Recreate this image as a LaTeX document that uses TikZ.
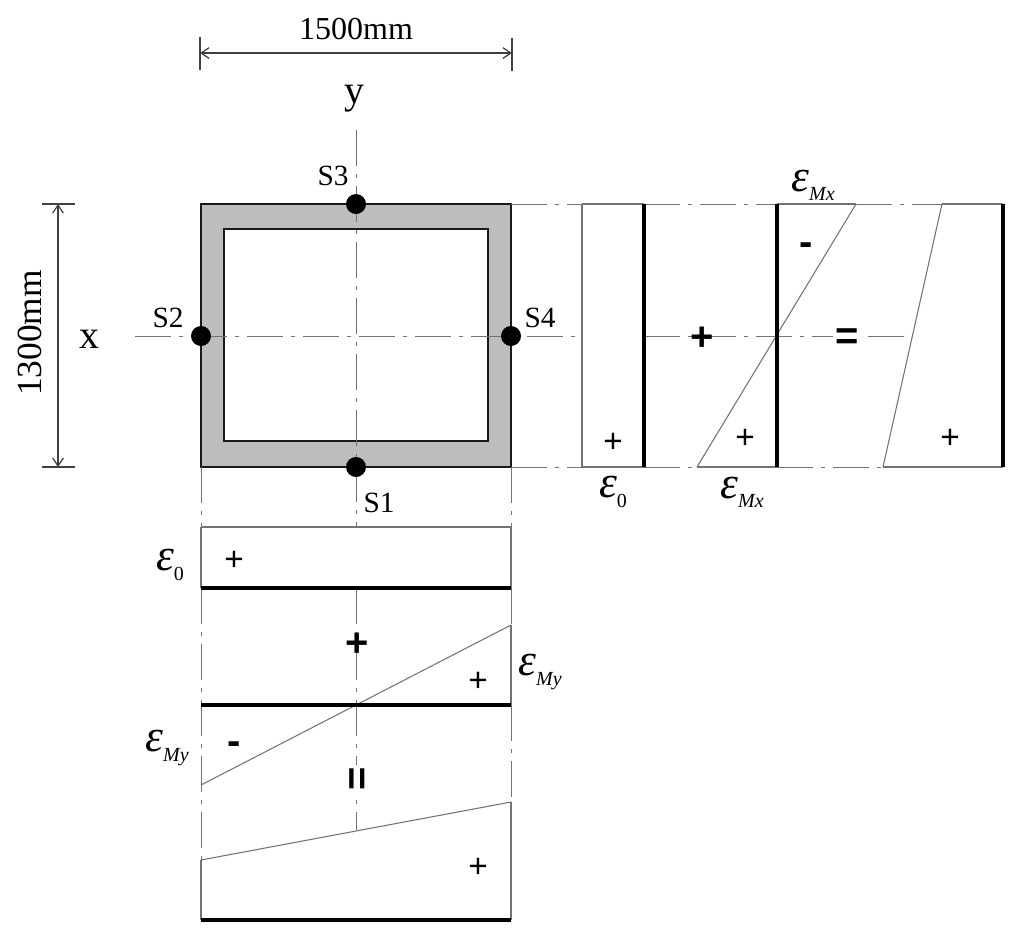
\documentclass[tikz,border=0pt]{standalone}
\usepackage{fontspec}
\setmainfont{Liberation Serif}
\newfontfamily\signfont{Liberation Sans}
\usetikzlibrary{arrows.meta}

\newcommand{\strain}[1]{{\fontsize{34}{36}\selectfont\itshape ε}\raisebox{-7pt}{\fontsize{15}{17}\selectfont #1}}

\tikzset{
	every picture/.style={line width=0.75pt},
	txt/.style={inner sep=0pt,font=\fontsize{22}{24}\selectfont},
	dimlabel/.style={inner sep=0pt,font=\fontsize{24}{26}\selectfont},
	axislabel/.style={inner sep=0pt,font=\fontsize{30}{32}\selectfont},
	sign/.style={inner sep=0pt,font=\signfont\fontsize{25}{26}\selectfont},
	bigsign/.style={inner sep=0pt,font=\signfont\fontsize{30}{31}\selectfont\bfseries},
	dot/.style={circle,fill=black,inner sep=0pt,minimum size=15pt},
	axisline/.style={color=black!55,line width=0.7pt,dash pattern={on 27pt off 6pt on 3pt off 6pt}},
	thin line/.style={color=black!55,line width=0.8pt},
	thick line/.style={color=black,line width=3pt},
	dimline/.style={color=black!75,line width=0.9pt},
	section line/.style={color=black!90,line width=1.3pt},
}

\begin{document}
\begin{tikzpicture}[x=0.75pt,y=0.75pt,yscale=-1,xscale=1]
	\useasboundingbox (0,0) rectangle (1024,940);
	%cross section
	\draw [section line,fill={black!26}] (201,204) rectangle (511,467);
	\draw [section line,fill=white] (224,229) rectangle (488,441);
	%centre axes
	\coordinate (axisT) at (356,130);
	\coordinate (axisB) at (356,527);
	\coordinate (axisL) at (135,336);
	\coordinate (axisR) at (582,336);
	\draw [axisline] (axisT) -- (axisB);
	\draw [axisline] (axisL) -- (axisR);
	\coordinate (axisB2) at (356,588);
	\coordinate (axisB3) at (356,830);
	\draw [axisline] (axisB2) -- (axisB3);
	\coordinate (axisR2) at (644,336);
	\coordinate (axisR3) at (913,336);
	\draw [axisline] (axisR2) -- (axisR3);
	%dimensions
	\coordinate (dimA1) at (200,37);
	\coordinate (dimA2) at (200,70);
	\coordinate (dimB1) at (512,38);
	\coordinate (dimB2) at (512,71);
	\coordinate (dimA) at (200,53);
	\coordinate (dimB) at (512,53);
	\draw [dimline] (dimA1) -- (dimA2);
	\draw [dimline] (dimB1) -- (dimB2);
	\draw [dimline,{Straight Barb[length=6pt,width=8pt]}-{Straight Barb[length=6pt,width=8pt]}] (dimA) -- (dimB);
	\coordinate (dimC1) at (42,204);
	\coordinate (dimC2) at (75,204);
	\coordinate (dimD1) at (42,467);
	\coordinate (dimD2) at (75,467);
	\coordinate (dimC) at (58,204);
	\coordinate (dimD) at (58,467);
	\draw [dimline] (dimC1) -- (dimC2);
	\draw [dimline] (dimD1) -- (dimD2);
	\draw [dimline,{Straight Barb[length=6pt,width=8pt]}-{Straight Barb[length=6pt,width=8pt]}] (dimC) -- (dimD);
	%right strain diagrams
	\coordinate (T0) at (511,204);
	\coordinate (T1) at (582,204);
	\coordinate (T2) at (644,204);
	\coordinate (T3) at (777,204);
	\coordinate (T4) at (856,204);
	\coordinate (T5) at (942,204);
	\coordinate (T6) at (1003,204);
	\coordinate (B0) at (511,467);
	\coordinate (B1) at (582,467);
	\coordinate (B2) at (644,467);
	\coordinate (B3) at (697,467);
	\coordinate (B4) at (777,467);
	\coordinate (B5) at (883,467);
	\coordinate (B6) at (1003,467);
	\draw [axisline] (T0) -- (T1);
	\draw [axisline] (T2) -- (T3);
	\draw [axisline] (T4) -- (T5);
	\draw [axisline] (B0) -- (B1);
	\draw [axisline] (B2) -- (B3);
	\draw [axisline] (B4) -- (B5);
	\draw [thin line] (T1) -- (T2);
	\draw [thin line] (T3) -- (T4);
	\draw [thin line] (T5) -- (T6);
	\draw [thin line] (B1) -- (B2);
	\draw [thin line] (B3) -- (B4);
	\draw [thin line] (B5) -- (B6);
	\draw [thin line] (T1) -- (B1);
	\draw [thin line] (T4) -- (B3);
	\draw [thin line] (T5) -- (B5);
	\draw [thick line] (T2) -- (B2);
	\draw [thick line] (T3) -- (B4);
	\draw [thick line] (T6) -- (B6);
	%lower strain diagrams
	\coordinate (L0) at (201,467);
	\coordinate (L1) at (201,527);
	\coordinate (L2) at (201,588);
	\coordinate (L3) at (201,705);
	\coordinate (L4) at (201,785);
	\coordinate (L5) at (201,860);
	\coordinate (L6) at (201,920);
	\coordinate (R0) at (511,467);
	\coordinate (R1) at (511,527);
	\coordinate (R2) at (511,588);
	\coordinate (R3) at (511,705);
	\coordinate (R4) at (511,625);
	\coordinate (R5) at (511,802);
	\coordinate (R6) at (511,920);
	\draw [axisline] (L0) -- (L1);
	\draw [axisline] (L2) -- (L5);
	\draw [axisline] (R0) -- (R1);
	\draw [axisline] (R2) -- (R4);
	\draw [axisline] (R3) -- (R5);
	\draw [thin line] (L1) -- (L2);
	\draw [thin line] (L5) -- (L6);
	\draw [thin line] (R1) -- (R2);
	\draw [thin line] (R4) -- (R3);
	\draw [thin line] (R5) -- (R6);
	\draw [thin line] (L1) -- (R1);
	\draw [thin line] (L4) -- (R4);
	\draw [thin line] (L5) -- (R5);
	\draw [thick line] (L2) -- (R2);
	\draw [thick line] (L3) -- (R3);
	\draw [thick line] (L6) -- (R6);
	%points
	\node [dot] (S1) at (356,467) {};
	\node [dot] (S2) at (201,336) {};
	\node [dot] (S3) at (356,204) {};
	\node [dot] (S4) at (511,336) {};
	%labels
	\node [dimlabel] (lblWidth) at (356,29) {1500mm};
	\node [dimlabel,rotate=90,font=\fontsize{26.5}{28}\selectfont] (lblHeight) at (30,333) {1300mm};
	\node [axislabel] (lblY) at (354,99) {y};
	\node [axislabel] (lblX) at (89,339) {x};
	\node [txt] (lblS1) at (379,503) {S1};
	\node [txt] (lblS2) at (168,318) {S2};
	\node [txt] (lblS3) at (333,176) {S3};
	\node [txt] (lblS4) at (540,318) {S4};
	\node [inner sep=0pt] (strainA) at (613,492) {\strain{0}};
	\node [inner sep=0pt] (strainB) at (170,565) {\strain{0}};
	\node [inner sep=0pt] (strainC) at (813,185) {\strain{\itshape Mx}};
	\node [inner sep=0pt] (strainD) at (742,492) {\strain{\itshape Mx}};
	\node [inner sep=0pt] (strainE) at (540,672) {\strain{\itshape My}};
	\node [inner sep=0pt] (strainF) at (167,748) {\strain{\itshape My}};
	\node [sign] (plusA) at (613,443) {+};
	\node [sign] (plusB) at (745,439) {+};
	\node [sign] (plusC) at (950,439) {+};
	\node [sign] (plusD) at (234,561) {+};
	\node [sign] (plusE) at (478,682) {+};
	\node [sign] (plusF) at (478,868) {+};
	\node [bigsign] (plusG) at (702,339) {+};
	\node [bigsign] (plusH) at (357,645) {+};
	\node [bigsign,fill=white,inner sep=2pt] (equalA) at (847,339) {=};
	\node [bigsign,fill=white,inner sep=2pt,rotate=90] (equalB) at (360,779) {=};
	\node [bigsign] (minusA) at (806,249) {-};
	\node [bigsign] (minusB) at (234,748) {-};
\end{tikzpicture}
\end{document}
